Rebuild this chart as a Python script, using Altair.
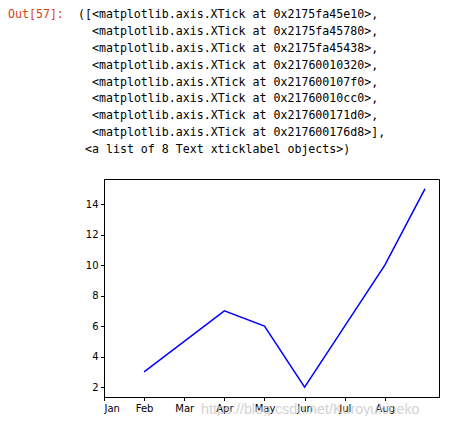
import altair as alt
import pandas as pd

months = ["Jan", "Feb", "Mar", "Apr", "May", "Jun", "Jul", "Aug"]
x_vals = [1, 2, 3, 4, 5, 6, 7, 8]
y_vals = [3, 5, 7, 6, 2, 6, 10, 15]
y_ticks = [2, 4, 6, 8, 10, 12, 14]

prompt_text = "Out[57]:"
addresses = ["0x2175fa45e10", "0x2175fa45780", "0x2175fa45438", "0x21760010320",
             "0x217600107f0", "0x21760010cc0", "0x217600171d0", "0x217600176d8"]
last_line = "<a list of 8 Text xticklabel objects>)"
watermark = "https://blog.csdn.net/Kuroyukineko"

first_line = "([<matplotlib.axis.XTick at " + addresses[0] + ">,"
mid_lines = ["<matplotlib.axis.XTick at " + a + ">," for a in addresses[1:-1]]
mid_lines.append("<matplotlib.axis.XTick at " + addresses[-1] + ">],")

df = pd.DataFrame({"x": x_vals, "y": y_vals})
one = pd.DataFrame({"k": [0]})

label_expr = "[" + ",".join("'%s'" % m for m in months) + "][datum.value]"

line = alt.Chart(df).mark_line(color="#0000ff", strokeWidth=1.5).encode(
    x=alt.X("x:Q", scale=alt.Scale(domain=[0, 8.35], nice=False, zero=False),
            axis=alt.Axis(values=list(range(len(months))), labelExpr=label_expr, title=None)),
    y=alt.Y("y:Q", scale=alt.Scale(domain=[1.35, 15.65], nice=False, zero=False),
            axis=alt.Axis(values=y_ticks, title=None)),
)

TOP = -164  # first text line centre, relative to plot area top
LH = 16.9
mono = dict(align="left", baseline="middle", font="DejaVu Sans Mono", fontSize=11.6, lineHeight=LH)

prompt = alt.Chart(one).mark_text(color="#D84315", **mono).encode(
    x=alt.value(-96), y=alt.value(TOP), text=alt.value(prompt_text))

t1 = alt.Chart(one).mark_text(color="#000000", **mono).encode(
    x=alt.value(-26), y=alt.value(TOP), text=alt.value(first_line))

t2 = alt.Chart(one).mark_text(color="#000000", **mono).encode(
    x=alt.value(-12), y=alt.value(TOP + LH), text=alt.value(mid_lines))

t3 = alt.Chart(one).mark_text(color="#000000", **mono).encode(
    x=alt.value(-19), y=alt.value(TOP + LH * 8), text=alt.value(last_line))

wm = alt.Chart(one).mark_text(
    align="left", baseline="middle", font="Liberation Sans", fontSize=14.3, color="#c8c8c8", opacity=0.8
).encode(x=alt.value(97), y=alt.value(231), text=alt.value(watermark))

chart = alt.layer(line, prompt, t1, t2, t3, wm).properties(
    width=335, height=218,
    padding={"left": 96, "top": 171, "right": 7, "bottom": 19},
    autosize=alt.AutoSizeParams(type="none"),
).configure_view(stroke="black", strokeWidth=1).configure_axis(
    grid=False, domainColor="black", tickColor="black", tickSize=3.5, labelPadding=2.5,
    labelFont="DejaVu Sans", labelFontSize=10, labelColor="#000000", domainWidth=1, tickWidth=1
)

chart.save("out.html", embed_options={"renderer": "svg", "actions": False})
